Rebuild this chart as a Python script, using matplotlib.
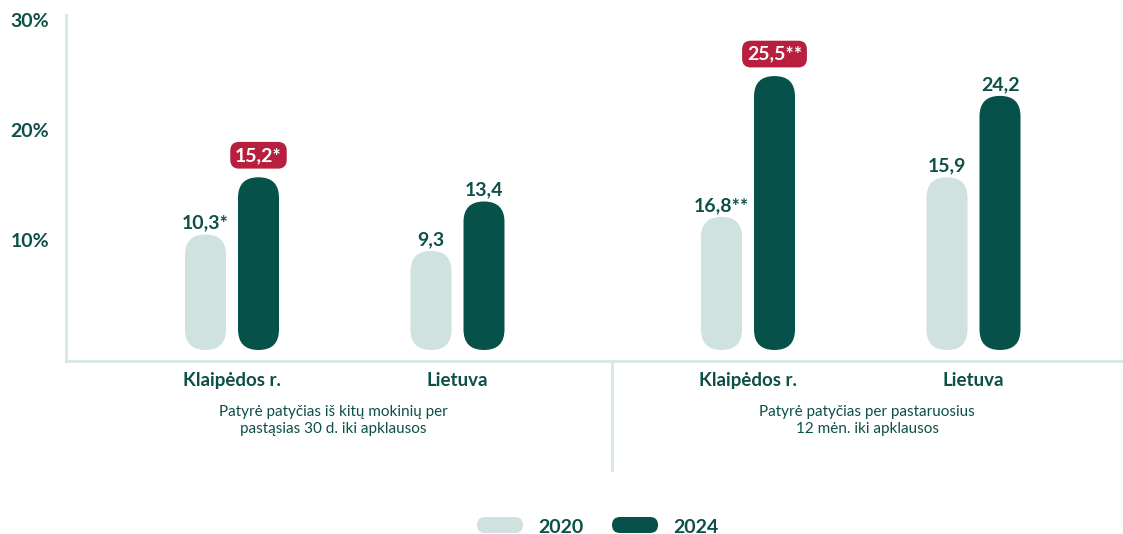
import matplotlib
matplotlib.use("Agg")
import matplotlib.pyplot as plt
from matplotlib.patches import FancyBboxPatch

# values
groups = ['Klaipėdos r.', 'Lietuva', 'Klaipėdos r.', 'Lietuva']
sections = ['Patyrė patyčias iš kitų mokinių per\npastąsias 30 d. iki apklausos',
            'Patyrė patyčias per pastaruosius\n12 mėn. iki apklausos']
years = ['2020', '2024']
# bar heights as drawn (%)
h2020 = [10.5, 9.0, 12.1, 15.7]
h2024 = [15.7, 13.5, 24.9, 23.1]
# printed value labels
lab2020 = ['10,3*', '9,3', '16,8**', '15,9']
lab2024 = ['15,2*', '13,4', '25,5**', '24,2']
hl2024 = [True, False, True, False]
yticks = [10, 20, 30]
ytick_labels = ['10%', '20%', '30%']

light = '#cfe2df'
dark = '#07514b'
txt = '#0c5048'
red = '#b81f3f'
axcol = '#d4e7e4'

plt.rcParams['font.family'] = ['Lato', 'DejaVu Sans']

W, H = 1123, 534
fig = plt.figure(figsize=(W / 100, H / 100), dpi=100)

# overlay for legend (figure pixel coords)
lax = fig.add_axes([0, 0, 1, 1], zorder=0)
lax.set_xlim(0, W)
lax.set_ylim(H, 0)
lax.axis('off')

ax = fig.add_axes([66 / W, (H - 361) / H, (W - 66) / W, (361 - 15) / H], zorder=1)
ax.patch.set_visible(False)
ax.set_xlim(0, W - 66)
ax.set_ylim(-1.0, 30.45)

# layout (pixel units along x)
cat_x = [166, 391.5, 682, 907.5]
sec_x = [267, 801]
div_x = 546
off = 26.5
bw = 41

xpx = (W - 66) / (W - 66)
ypx = 346 / 31.45
asp = xpx / ypx


def capsule(x, h, color):
    p = FancyBboxPatch((x - bw / 2, 0), bw, h,
                       boxstyle=f'round,pad=0,rounding_size={bw / 2}',
                       mutation_aspect=asp, fc=color, ec='none')
    ax.add_patch(p)


for i, x in enumerate(cat_x):
    capsule(x - off, h2020[i], light)
    capsule(x + off, h2024[i], dark)
    ax.annotate(lab2020[i], xy=(x - off, h2020[i]), xytext=(0, 3), textcoords='offset pixels',
                ha='center', va='bottom', fontsize=14, fontweight='bold', color=txt)
    if hl2024[i]:
        ax.annotate(lab2024[i], xy=(x + off, h2024[i]), xytext=(0, 22), textcoords='offset pixels',
                    ha='center', va='center', fontsize=14, fontweight='bold', color='white',
                    bbox=dict(boxstyle='round,pad=0.25,rounding_size=0.45', fc=red, ec='none'))
    else:
        ax.annotate(lab2024[i], xy=(x + off, h2024[i]), xytext=(0, 3), textcoords='offset pixels',
                    ha='center', va='bottom', fontsize=14, fontweight='bold', color=txt)

# axes styling
for s in ['top', 'right']:
    ax.spines[s].set_visible(False)
for s in ['left', 'bottom']:
    ax.spines[s].set_color(axcol)
    ax.spines[s].set_linewidth(2)

ax.set_yticks(yticks, ytick_labels)
ax.tick_params(axis='y', length=0, pad=12, labelsize=14, labelcolor=txt)
ax.set_xticks(cat_x, groups)
ax.tick_params(axis='x', length=0, pad=8, labelsize=13.5, labelcolor=txt)
for t in ax.get_yticklabels() + ax.get_xticklabels():
    t.set_fontweight('bold')

for sx, s in zip(sec_x, sections):
    ax.annotate(s, xy=(sx, 0), xycoords=('data', 'axes fraction'), xytext=(0, -44),
                textcoords='offset pixels', ha='center', va='top', fontsize=11,
                linespacing=1.25, color=txt)

ax.plot([div_x, div_x], [0, -0.315], transform=ax.get_xaxis_transform(),
        clip_on=False, color=axcol, lw=2)

# legend
lx = [477, 612]
for x, yr, c in zip(lx, years, [light, dark]):
    lax.add_patch(FancyBboxPatch((x, 517), 46, 16, boxstyle='round,pad=0,rounding_size=8',
                                 fc=c, ec='none'))
    lax.text(x + 61, 533, yr, ha='left', va='baseline', fontsize=14,
             fontweight='bold', color=txt)

fig.savefig('out.png', dpi=100)
